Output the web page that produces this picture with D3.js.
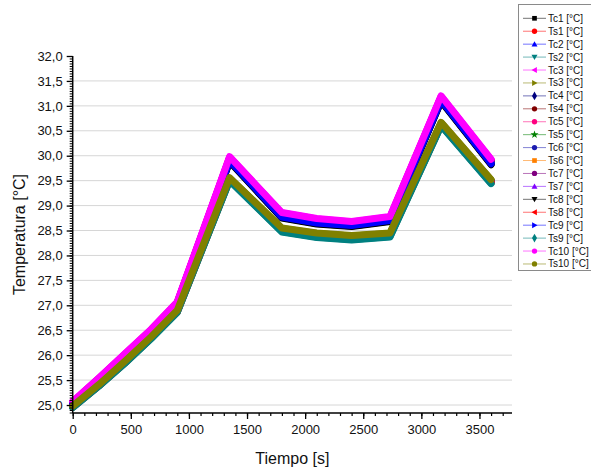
<!DOCTYPE html>
<html>
<head>
<meta charset="utf-8">
<script src="https://cdn.jsdelivr.net/npm/d3@7"></script>
<style>
  html, body { margin: 0; padding: 0; background: #fff; }
  svg { display: block; font-family: "Liberation Sans", Arial, sans-serif; }
</style>
</head>
<body>
<svg id="chart" width="591" height="470"></svg>
<script>
// Sampling times [s]
const tiempo = [0, 225, 450, 675, 900, 1350, 1800, 2100, 2400, 2730, 3170, 3600];

// Temperatures [°C] per sensor
const Tc1  = [25.05, 25.52, 26.01, 26.49, 27.03, 29.94, 28.81, 28.69, 28.64, 28.74, 31.15, 29.88];
const Ts1  = [24.97, 25.40, 25.86, 26.35, 26.88, 29.53, 28.51, 28.41, 28.36, 28.41, 30.64, 29.48];
const Tc2  = [25.04, 25.51, 26.00, 26.48, 27.01, 29.91, 28.78, 28.66, 28.61, 28.71, 31.12, 29.85];
const Ts2  = [24.95, 25.38, 25.84, 26.34, 26.86, 29.51, 28.48, 28.37, 28.32, 28.38, 30.61, 29.45];
const Tc3  = [25.07, 25.54, 26.02, 26.51, 27.06, 29.97, 28.85, 28.73, 28.67, 28.77, 31.19, 29.92];
const Ts3  = [24.98, 25.41, 25.88, 26.37, 26.90, 29.55, 28.54, 28.44, 28.39, 28.44, 30.66, 29.51];
const Tc4  = [25.03, 25.50, 25.99, 26.47, 27.00, 29.89, 28.76, 28.64, 28.59, 28.69, 31.10, 29.83];
const Ts4  = [24.96, 25.39, 25.86, 26.35, 26.88, 29.53, 28.51, 28.40, 28.35, 28.41, 30.63, 29.48];
const Tc5  = [25.06, 25.53, 26.02, 26.51, 27.05, 29.96, 28.84, 28.72, 28.66, 28.76, 31.18, 29.91];
const Ts5  = [24.97, 25.40, 25.87, 26.36, 26.89, 29.55, 28.53, 28.43, 28.38, 28.43, 30.65, 29.50];
const Tc6  = [25.04, 25.52, 26.00, 26.49, 27.03, 29.93, 28.80, 28.68, 28.63, 28.73, 31.14, 29.87];
const Ts6  = [24.96, 25.39, 25.85, 26.34, 26.87, 29.51, 28.49, 28.38, 28.33, 28.39, 30.61, 29.46];
const Tc7  = [25.05, 25.53, 26.01, 26.50, 27.05, 29.95, 28.83, 28.71, 28.65, 28.75, 31.17, 29.90];
const Ts7  = [24.97, 25.40, 25.87, 26.36, 26.89, 29.54, 28.52, 28.42, 28.37, 28.42, 30.65, 29.49];
const Tc8  = [25.02, 25.50, 25.98, 26.46, 26.99, 29.88, 28.75, 28.63, 28.58, 28.68, 31.09, 29.82];
const Ts8  = [24.96, 25.39, 25.85, 26.35, 26.87, 29.52, 28.50, 28.39, 28.34, 28.40, 30.62, 29.47];
const Tc9  = [25.03, 25.51, 25.99, 26.47, 27.01, 29.90, 28.77, 28.65, 28.60, 28.70, 31.11, 29.84];
const Ts9  = [24.95, 25.38, 25.84, 26.33, 26.86, 29.50, 28.47, 28.36, 28.31, 28.37, 30.60, 29.44];
const Tc10 = [25.07, 25.54, 26.03, 26.52, 27.07, 29.98, 28.86, 28.74, 28.68, 28.78, 31.20, 29.93];
const Ts10 = [24.98, 25.41, 25.88, 26.37, 26.90, 29.56, 28.55, 28.45, 28.40, 28.45, 30.67, 29.52];

const seriesNames = ["Tc1 [°C]", "Ts1 [°C]", "Tc2 [°C]", "Ts2 [°C]", "Tc3 [°C]", "Ts3 [°C]",
  "Tc4 [°C]", "Ts4 [°C]", "Tc5 [°C]", "Ts5 [°C]", "Tc6 [°C]", "Ts6 [°C]", "Tc7 [°C]", "Ts7 [°C]",
  "Tc8 [°C]", "Ts8 [°C]", "Tc9 [°C]", "Ts9 [°C]", "Tc10 [°C]", "Ts10 [°C]"];
const seriesValues = [Tc1, Ts1, Tc2, Ts2, Tc3, Ts3, Tc4, Ts4, Tc5, Ts5, Tc6, Ts6, Tc7, Ts7,
  Tc8, Ts8, Tc9, Ts9, Tc10, Ts10];

const xTicks = [0, 500, 1000, 1500, 2000, 2500, 3000, 3500];
const yTicks = [25.0, 25.5, 26.0, 26.5, 27.0, 27.5, 28.0, 28.5, 29.0, 29.5, 30.0, 30.5, 31.0, 31.5, 32.0];

// Line/marker styling per series
const colors = ["#000000", "#ff0000", "#0000ff", "#008080", "#ff00ff", "#808000",
  "#000080", "#800000", "#ff0080", "#008000", "#1c1cb0", "#ff8000", "#800080", "#8000ff",
  "#000000", "#ff0000", "#0000ff", "#008080", "#ff00ff", "#808000"];
const symbols = [d3.symbolSquare, d3.symbolCircle, "tri-up", "tri-down", "tri-left", "tri-right",
  d3.symbolDiamond, d3.symbolCircle, d3.symbolCircle, d3.symbolStar, d3.symbolCircle, d3.symbolSquare,
  d3.symbolCircle, "tri-up", "tri-down", "tri-left", "tri-right", d3.symbolDiamond,
  d3.symbolCircle, d3.symbolCircle];

const svg = d3.select("#chart");
const plotLeft = 72.7, plotRight = 512, plotTop = 56, plotBottom = 413;

const x = d3.scaleLinear().domain([0, 3780]).range([plotLeft, plotRight]);
const y = d3.scaleLinear().domain([24.84, 32.0]).range([plotBottom, plotTop]);

// Horizontal grid
svg.append("g")
  .selectAll("line")
  .data(yTicks.filter(v => v < 32))
  .join("line")
  .attr("x1", plotLeft).attr("x2", plotRight)
  .attr("y1", d => y(d)).attr("y2", d => y(d))
  .attr("stroke", "#d6d6d6").attr("stroke-width", 1);

// Series (dense markers rendered as thick bands)
const line = d3.line()
  .x((d, i) => x(tiempo[i]))
  .y(d => y(d));

svg.append("g")
  .selectAll("path")
  .data(seriesValues)
  .join("path")
  .attr("d", d => line(d))
  .attr("fill", "none")
  .attr("stroke", (d, i) => colors[i])
  .attr("stroke-width", 7)
  .attr("stroke-linejoin", "round")
  .attr("stroke-linecap", "round");

// Axes
const fmt = d => d3.format(".1f")(d).replace(".", ",");

const xAxis = svg.append("g").attr("transform", `translate(0,${plotBottom})`);
xAxis.call(d3.axisBottom(x).tickValues(d3.range(0, 3701, 100)).tickSize(3).tickFormat(""));
xAxis.selectAll(".tick line").attr("stroke-width", 1.2);
xAxis.select(".domain").attr("stroke-width", 1.5).attr("d", `M${plotLeft},0H${plotRight}`);
const xMajor = svg.append("g").attr("transform", `translate(0,${plotBottom})`)
  .call(d3.axisBottom(x).tickValues(xTicks).tickSize(6).tickPadding(6).tickFormat(d3.format("d")));
xMajor.select(".domain").remove();
xMajor.selectAll(".tick line").attr("stroke-width", 1.3);
xMajor.selectAll(".tick text").attr("font-size", 13).attr("fill", "#111")
  .attr("font-family", "Liberation Sans, Arial, sans-serif");

const yAxis = svg.append("g").attr("transform", `translate(${plotLeft},0)`);
yAxis.call(d3.axisLeft(y).tickValues(d3.range(24.85, 32.001, 0.05)).tickSize(3).tickFormat(""));
yAxis.selectAll(".tick line").attr("stroke-width", 1);
yAxis.select(".domain").attr("stroke-width", 1.5).attr("d", `M0,${plotBottom}V${plotTop}`);
const yMajor = svg.append("g").attr("transform", `translate(${plotLeft},0)`)
  .call(d3.axisLeft(y).tickValues(yTicks).tickSize(6).tickPadding(4).tickFormat(fmt));
yMajor.select(".domain").remove();
yMajor.selectAll(".tick line").attr("stroke-width", 1.3);
yMajor.selectAll(".tick text").attr("font-size", 13).attr("fill", "#111")
  .attr("font-family", "Liberation Sans, Arial, sans-serif");

// Axis titles
svg.append("text")
  .attr("x", (plotLeft + plotRight) / 2).attr("y", 464)
  .attr("text-anchor", "middle").attr("font-size", 16).attr("fill", "#111")
  .text("Tiempo [s]");
svg.append("text")
  .attr("transform", `translate(25,${(plotTop + plotBottom) / 2}) rotate(-90)`)
  .attr("text-anchor", "middle").attr("font-size", 16).attr("fill", "#111")
  .text("Temperatura [°C]");

// Legend
const legend = svg.append("g");
legend.append("rect")
  .attr("x", 518.5).attr("y", 4.5).attr("width", 80).attr("height", 266)
  .attr("fill", "#fff").attr("stroke", "#8a8a8a").attr("stroke-width", 1);

function markerPath(sym) {
  const s = 3;
  if (sym === "tri-up") return `M0,${-s}L${s},${s * 0.8}L${-s},${s * 0.8}Z`;
  if (sym === "tri-down") return `M0,${s}L${s},${-s * 0.8}L${-s},${-s * 0.8}Z`;
  if (sym === "tri-left") return `M${-s},0L${s * 0.8},${-s}L${s * 0.8},${s}Z`;
  if (sym === "tri-right") return `M${s},0L${-s * 0.8},${-s}L${-s * 0.8},${s}Z`;
  return d3.symbol(sym, sym === d3.symbolStar ? 20 : 22)();
}

const items = legend.selectAll("g.item")
  .data(seriesNames)
  .join("g")
  .attr("class", "item")
  .attr("transform", (d, i) => `translate(0,${18.3 + i * 12.93})`);
items.append("line")
  .attr("x1", 523).attr("x2", 546).attr("y1", 0).attr("y2", 0)
  .attr("stroke", (d, i) => colors[i]).attr("stroke-width", 1).attr("stroke-opacity", 0.55);
items.append("path")
  .attr("transform", "translate(534.5,0)")
  .attr("d", (d, i) => markerPath(symbols[i]))
  .attr("fill", (d, i) => colors[i]);
items.append("text")
  .attr("x", 548).attr("y", 0).attr("dy", "0.35em")
  .attr("font-size", 10).attr("fill", "#111")
  .text(d => d);
</script>
</body>
</html>
